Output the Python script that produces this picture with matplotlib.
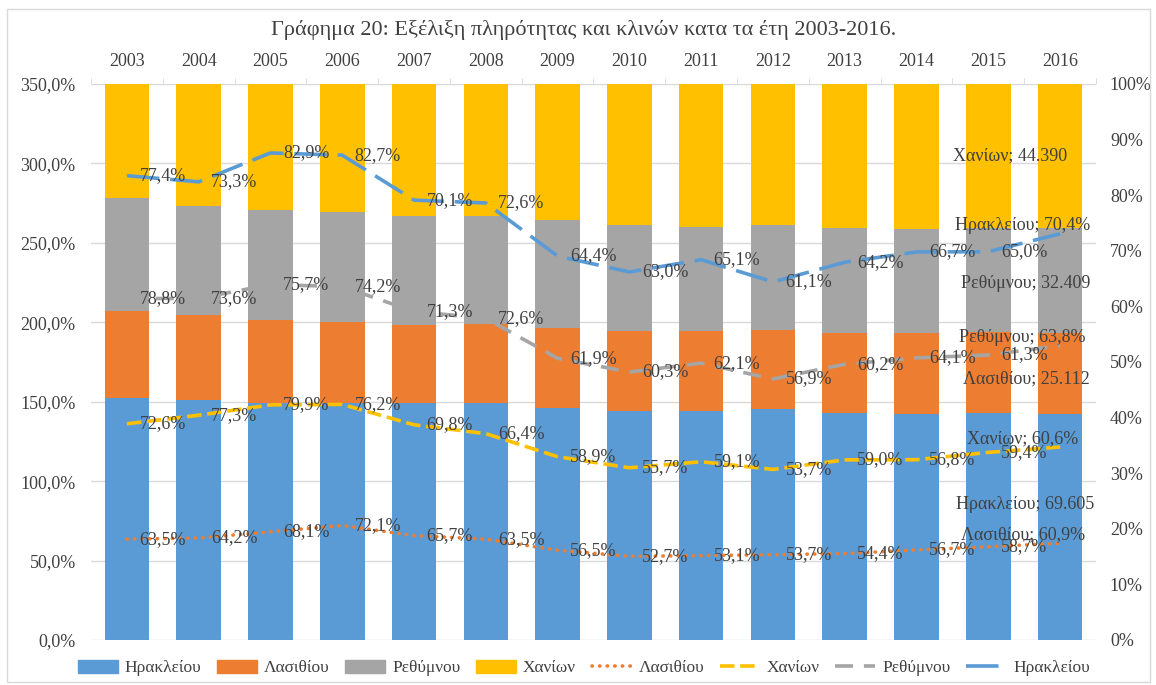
import numpy as np
import matplotlib
matplotlib.use("Agg")
import matplotlib.pyplot as plt
from matplotlib.patches import Rectangle, Patch
from matplotlib.lines import Line2D

plt.rcParams['font.family'] = ['Liberation Serif', 'DejaVu Serif']

years = ['2003', '2004', '2005', '2006', '2007', '2008', '2009',
         '2010', '2011', '2012', '2013', '2014', '2015', '2016']

# share of beds per prefecture (%), bars on the right axis
beds_heraklion = [43.5, 43.1, 42.6, 42.7, 42.7, 42.6, 41.8, 41.1, 41.2, 41.5, 40.9, 40.7, 40.8, 40.6]
beds_lasithi = [15.7, 15.4, 15.0, 14.5, 13.9, 14.2, 14.4, 14.5, 14.3, 14.3, 14.4, 14.6, 14.6, 14.6]
beds_rethymno = [20.3, 19.5, 19.7, 19.7, 19.7, 19.4, 19.3, 19.0, 18.8, 18.8, 18.8, 18.7, 18.7, 18.9]
beds_chania = [20.5, 22.0, 22.7, 23.1, 23.7, 23.8, 24.5, 25.4, 25.7, 25.4, 25.9, 26.0, 25.9, 25.9]

# bed counts shown for 2016
beds_2016 = [69605, 25112, 32409, 44390]

# occupancy per prefecture (%), stacked lines on the left axis
occ_lasithi = [63.5, 64.2, 68.1, 72.1, 65.7, 63.5, 56.5, 52.7, 53.1, 53.7, 54.4, 56.7, 58.7, 60.9]
occ_chania = [72.6, 77.3, 79.9, 76.2, 69.8, 66.4, 58.9, 55.7, 59.1, 53.7, 59.0, 56.8, 59.4, 60.6]
occ_rethymno = [78.8, 73.6, 75.7, 74.2, 71.3, 72.6, 61.9, 60.3, 62.1, 56.9, 60.2, 64.1, 61.3, 63.8]
occ_heraklion = [77.4, 73.3, 82.9, 82.7, 70.1, 72.6, 64.4, 63.0, 65.1, 61.1, 64.2, 66.7, 65.0, 70.4]

names = ['Ηρακλείου', 'Λασιθίου', 'Ρεθύμνου', 'Χανίων']
BLUE, ORANGE, GRAY, YELLOW = '#5B9BD5', '#ED7D31', '#A5A5A5', '#FFC000'
TXT = '#404040'
GRID = '#D9D9D9'


def pct1(v):
    return f"{v:.1f}%".replace('.', ',')


fig = plt.figure(figsize=(11.56, 6.85), dpi=100)
fig.patches.append(Rectangle((7 / 1156, 3 / 685), 1143 / 1156, 673 / 685, transform=fig.transFigure,
                             fill=False, edgecolor=GRID, lw=1))

ax = fig.add_axes([91 / 1156, 1 - 640 / 685, 1005 / 1156, 556 / 685])
x = np.arange(len(years))

# grid + left axis
ax.set_ylim(0, 350)
ax.set_xlim(-0.5, len(years) - 0.5)
ax.set_yticks(np.arange(0, 351, 50))
ax.set_yticklabels([pct1(v) for v in np.arange(0, 351, 50)])
ax.grid(axis='y', color=GRID, lw=1)
ax.set_axisbelow(True)
for s in ax.spines.values():
    s.set_visible(False)
ax.tick_params(axis='y', length=0, pad=11, labelsize=13, labelcolor=TXT)
ax.xaxis.tick_top()
ax.set_xticks(x)
ax.set_xticklabels(years)
ax.set_xticks(np.arange(-0.5, len(years)), minor=True)
ax.tick_params(axis='x', which='major', length=0, pad=10, labelsize=13, labelcolor=TXT)
ax.tick_params(axis='x', which='minor', length=4, color=GRID, top=True, bottom=False)

# bars on right axis
axb = ax.twinx()
axb.set_ylim(0, 100)
axb.set_yticks(np.arange(0, 101, 10))
axb.set_yticklabels([f"{v}%" for v in range(0, 101, 10)])
axb.tick_params(axis='y', length=0, pad=10, labelsize=13, labelcolor=TXT)
for s in axb.spines.values():
    s.set_visible(False)
bottom = np.zeros(len(years))
segs = []
for vals, col in zip([beds_heraklion, beds_lasithi, beds_rethymno, beds_chania], [BLUE, ORANGE, GRAY, YELLOW]):
    axb.bar(x, vals, 0.62, bottom=bottom, color=col, zorder=2)
    segs.append(bottom + np.array(vals) / 2)
    bottom = bottom + np.array(vals)

# 2016 bed labels
bar_offsets = [(-25, 16), (-24, -4), (-25, -2), (-36, 0)]
for name, n, seg, off in zip(names, beds_2016, segs, bar_offsets):
    axb.annotate(f"{name}; {n:,}".replace(',', '.'), (x[-1], seg[-1]), xytext=off,
                 textcoords='offset points', ha='center', va='center', fontsize=13, color=TXT, zorder=5)

# stacked occupancy lines on a third axis (above bars)
axl = ax.twinx()
axl.set_ylim(0, 350)
axl.axis('off')
cum = np.cumsum([occ_lasithi, occ_chania, occ_rethymno, occ_heraklion], axis=0)
styles = [
    (ORANGE, (0, (0.1, 2.0)), 'round', 'Λασιθίου', occ_lasithi),
    (YELLOW, (0, (4, 1.6)), 'butt', 'Χανίων', occ_chania),
    (GRAY, (0, (5, 3)), 'butt', 'Ρεθύμνου', occ_rethymno),
    (BLUE, (0, (9, 3)), 'butt', 'Ηρακλείου', occ_heraklion),
]
line_handles = []
for yy, (col, ls, cap, name, occ) in zip(cum, styles):
    axl.plot(x, yy, color=col, lw=2.6, linestyle=ls, dash_capstyle=cap, zorder=3)
    line_handles.append(Line2D([], [], color=col, lw=2.6, linestyle=ls, dash_capstyle=cap))
    for i in range(len(x) - 1):
        axl.annotate(pct1(occ[i]), (x[i], yy[i]), xytext=(9, 0), textcoords='offset points',
                     ha='left', va='center', fontsize=13, color=TXT, zorder=4)
    axl.annotate(f"{name}; {pct1(occ[-1])}", (x[-1], yy[-1]), xytext=(-27, 6),
                 textcoords='offset points', ha='center', va='center', fontsize=13, color=TXT, zorder=4)

fig.text(0.505, 1 - 30 / 685, 'Γράφημα 20: Εξέλιξη πληρότητας και κλινών κατα τα έτη 2003-2016.',
         ha='center', va='center', fontsize=16, color=TXT)

handles = [Patch(color=c) for c in [BLUE, ORANGE, GRAY, YELLOW]] + line_handles
labels = names + ['Λασιθίου', 'Χανίων', 'Ρεθύμνου', 'Ηρακλείου']
fig.legend(handles, labels, loc='center', bbox_to_anchor=(0.505, 1 - 668 / 685), ncol=8,
           frameon=False, fontsize=12.5, handlelength=2.3, handleheight=0.8,
           columnspacing=0.9, handletextpad=0.4, labelcolor=TXT)

fig.savefig('out.png', dpi=100)
